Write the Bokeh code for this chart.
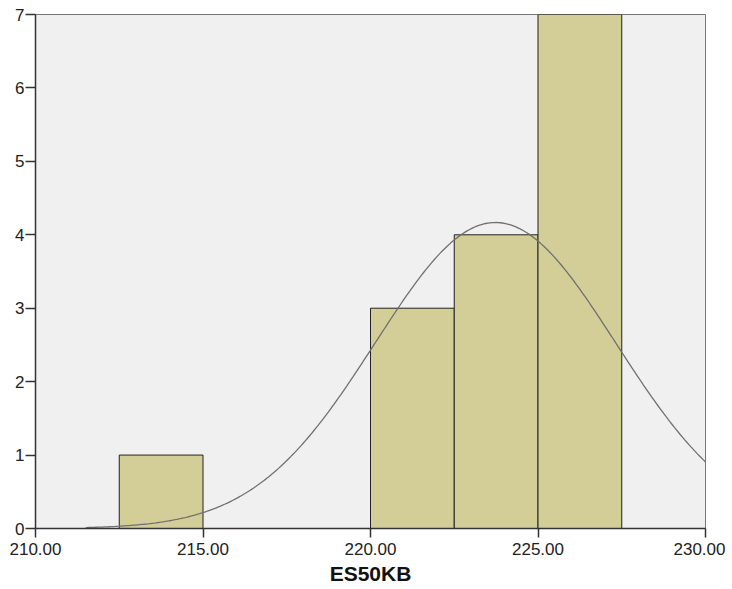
import numpy as np
from bokeh.plotting import figure
from bokeh.models import FixedTicker, NumeralTickFormatter, Range1d
from bokeh.embed import file_html
from bokeh.resources import INLINE

# Histogram data (ES50KB)
bin_left = [212.5, 220.0, 222.5, 225.0]
bin_right = [215.0, 222.5, 225.0, 227.5]
counts = [1, 3, 4, 7]
x_ticks = [210, 215, 220, 225, 230]
y_ticks = [0, 1, 2, 3, 4, 5, 6, 7]

# Normal curve parameters (fitted)
mean_val = 223.73
sd_val = 3.59
n_obs = 15
bin_width = 2.5

p = figure(width=725, height=588, output_backend="svg", toolbar_location=None,
           x_range=Range1d(210, 230), y_range=Range1d(0, 7),
           min_border_left=35, min_border_top=14, min_border_right=20, min_border_bottom=60)

p.background_fill_color = "#F0F0F0"
p.border_fill_color = "white"
p.outline_line_color = "#777777"
p.outline_line_width = 1
p.grid.visible = False

p.quad(left=bin_left, right=bin_right, bottom=0, top=counts,
       fill_color="#D3CE97", line_color="#222222", line_width=1)

xs = np.linspace(211.5, 230, 300)
ys = n_obs * bin_width / (sd_val * np.sqrt(2 * np.pi)) * np.exp(-0.5 * ((xs - mean_val) / sd_val) ** 2)
p.line(xs, ys, line_color="#707070", line_width=1.3)

for ax in (p.xaxis[0], p.yaxis[0]):
    ax.axis_line_color = "#333333"
    ax.axis_line_width = 1.5
    ax.major_tick_line_color = "#333333"
    ax.major_tick_line_width = 1.5
    ax.major_tick_in = 0
    ax.minor_tick_line_color = None
    ax.major_label_text_font = "Liberation Sans"
    ax.major_label_text_font_size = "17px"
    ax.major_label_text_color = "#222222"

p.xaxis.ticker = FixedTicker(ticks=x_ticks)
p.xaxis.formatter = NumeralTickFormatter(format="0.00")
p.xaxis.major_tick_out = 9
p.xaxis.major_label_standoff = 5
p.yaxis.ticker = FixedTicker(ticks=y_ticks)
p.yaxis.major_tick_out = 10
p.yaxis.major_label_standoff = 1

p.xaxis.axis_label = "ES50KB"
p.xaxis.axis_label_text_font = "Liberation Sans"
p.xaxis.axis_label_text_font_style = "bold"
p.xaxis.axis_label_text_font_size = "21px"
p.xaxis.axis_label_text_color = "#111111"
p.xaxis.axis_label_standoff = 4

open("out.html", "w").write(file_html(p, INLINE))
